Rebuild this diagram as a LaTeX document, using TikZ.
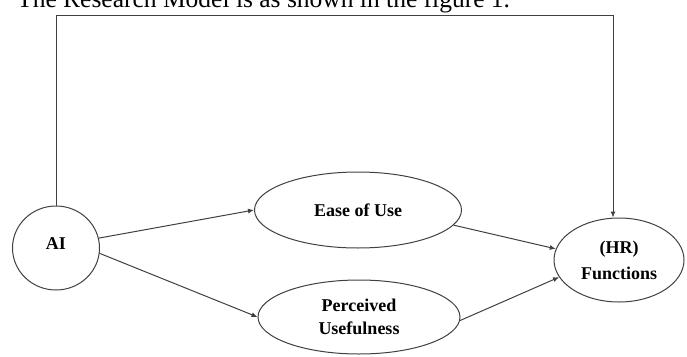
\documentclass[tikz,border=0pt]{standalone}
\usepackage{fontspec}
\setmainfont{Liberation Serif}
\usetikzlibrary{arrows.meta,positioning,shapes.geometric}

\begin{document}
\begin{tikzpicture}[x=1pt, y=-1pt,
    construct/.style={ellipse, draw=black!75, line width=1pt, fill=white, inner sep=0pt, align=center, font=\fontsize{18}{23}\selectfont\bfseries},
    arrow/.style={-{Latex[length=6pt,width=5pt]}, draw=black!75, line width=1pt}
  ]
    \clip (0,0) rectangle (687,356);
    % caption line above the figure, cut off at the top
    \node[anchor=base west, inner sep=0pt, font=\fontsize{25.5}{30}\selectfont] (caption) at (17,7) {The Research Model is as shown in the figure 1.};

    \node[construct, minimum width=87pt, minimum height=84pt] (ai) at (56,248) {\raisebox{9pt}{AI}};
    \node[construct, minimum width=207pt, minimum height=76pt] (eou) at (358,210) {Ease of Use};
    \node[construct, minimum width=202pt, minimum height=74pt] (pu) at (359,317) {Perceived\\Usefulness};
    \node[construct, minimum width=130pt, minimum height=84pt, font=\fontsize{18}{26}\selectfont\bfseries] (hr) at (619,260) {(HR)\\Functions};

    \coordinate (topright) at (613,15);
    \draw[arrow] (ai.north) |- (topright) -- (topright |- hr.north);
    \draw[arrow] (ai.13) -- (eou.west);
    \draw[arrow] (ai.353) -- (pu.west);
    \draw[arrow] (eou.351) -- (hr.170);
    \draw[arrow] (pu.358) -- (hr.196);
  \end{tikzpicture}
\end{document}
